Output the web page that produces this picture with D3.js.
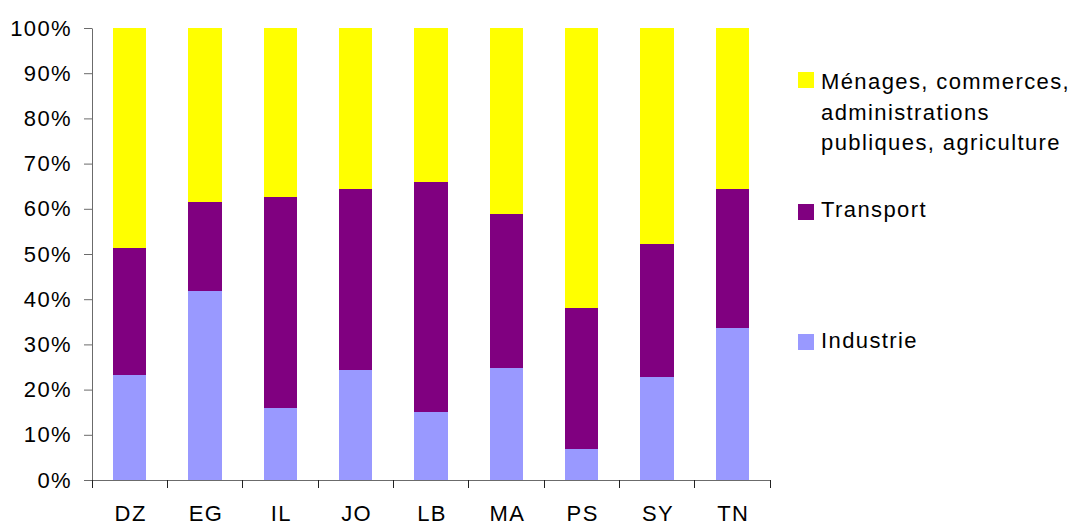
<!DOCTYPE html>
<html>
<head>
<meta charset="utf-8">
<script src="https://cdn.jsdelivr.net/npm/d3@7"></script>
<style>
  html, body { margin: 0; padding: 0; background: #fff; }
  svg text { font-family: "Liberation Sans", Arial, sans-serif; font-size: 22px; fill: #000; letter-spacing: 1.4px; }
</style>
</head>
<body>
<svg id="chart" width="1075" height="525"></svg>
<script>
// Pays (codes ISO) et parts de la consommation finale d'énergie par secteur (%)
const categories = ["DZ", "EG", "IL", "JO", "LB", "MA", "PS", "SY", "TN"];
const industrie  = [23.2, 41.8, 15.9, 24.3, 15.0, 24.8, 6.9, 22.8, 33.6];
const transport  = [28.1, 19.7, 46.7, 40.1, 50.9, 34.0, 31.2, 29.4, 30.8];
const menages    = [48.7, 38.5, 37.4, 35.6, 34.1, 41.2, 61.9, 47.8, 35.6];
const yTicks     = [0, 0.1, 0.2, 0.3, 0.4, 0.5, 0.6, 0.7, 0.8, 0.9, 1];

const seriesNames = ["Industrie", "Transport", "Ménages, commerces, administrations publiques, agriculture"];
const seriesColors = ["#9999ff", "#800080", "#ffff00"];
const seriesKeys = ["industrie", "transport", "menages"];

const rows = categories.map((c, i) => ({
  cat: c, industrie: industrie[i], transport: transport[i], menages: menages[i]
}));
// normalise chaque colonne à 100 %
rows.forEach(r => {
  const t = r.industrie + r.transport + r.menages;
  seriesKeys.forEach(k => r[k] = r[k] / t);
});

const svg = d3.select("#chart");
const axisColor = "#6b6b6b";

const x = d3.scaleBand().domain(categories).range([92, 770])
  .paddingInner(0.56).paddingOuter(0.28);
const y = d3.scaleLinear().domain([0, 1]).range([480, 28]);

const stack = d3.stack().keys(seriesKeys)(rows);

// barres empilées
svg.append("g").selectAll("g").data(stack).join("g")
  .attr("fill", (d, i) => seriesColors[i])
  .selectAll("rect").data(d => d).join("rect")
  .attr("x", d => x(d.data.cat))
  .attr("width", x.bandwidth())
  .attr("y", d => y(d[1]))
  .attr("height", d => y(d[0]) - y(d[1]))
  .attr("shape-rendering", "crispEdges");

// axe vertical
const yAxis = svg.append("g").attr("transform", "translate(92,0)")
  .call(d3.axisLeft(y).tickValues(yTicks).tickFormat(d3.format(".0%"))
    .tickSize(8).tickPadding(12).tickSizeOuter(0));
yAxis.select(".domain").attr("stroke", axisColor);
yAxis.selectAll(".tick line").attr("stroke", axisColor);
yAxis.selectAll("text").attr("fill", "#000");
yAxis.attr("font-size", null).attr("font-family", null);

// axe horizontal : graduations entre les catégories
const xAxisG = svg.append("g");
xAxisG.append("line")
  .attr("x1", x.range()[0]).attr("x2", x.range()[1])
  .attr("y1", y(0)).attr("y2", y(0))
  .attr("stroke", axisColor).attr("shape-rendering", "crispEdges");
const bounds = categories.map(c => x(c) - x.step() * x.paddingOuter());
bounds.push(x.range()[1]);
xAxisG.selectAll("line.b").data(bounds).join("line")
  .attr("class", "b")
  .attr("x1", d => d).attr("x2", d => d)
  .attr("y1", y(0)).attr("y2", y(0) + 8)
  .attr("stroke", "#222").attr("shape-rendering", "crispEdges");

const xAxis = svg.append("g").attr("transform", `translate(0,${y(0)})`)
  .call(d3.axisBottom(x).tickSize(0).tickPadding(25));
xAxis.select(".domain").remove();
xAxis.attr("font-size", null).attr("font-family", null);
xAxis.selectAll("text").attr("fill", "#000").attr("dx", "1px");

// légende
const legendItems = [
  { i: 2, lines: ["Ménages, commerces,", "administrations", "publiques, agriculture"], base: 89, sy: 72 },
  { i: 1, lines: ["Transport"], base: 217, sy: 204 },
  { i: 0, lines: ["Industrie"], base: 348, sy: 334 }
];
const legend = svg.append("g");
legendItems.forEach(item => {
  legend.append("rect")
    .attr("x", 798).attr("y", item.sy).attr("width", 16).attr("height", 16)
    .attr("fill", seriesColors[item.i]);
  const t = legend.append("text").attr("x", 821).attr("y", item.base);
  item.lines.forEach((ln, k) => {
    t.append("tspan").attr("x", 821).attr("y", item.base + k * 30.5).text(ln);
  });
});
</script>
</body>
</html>
